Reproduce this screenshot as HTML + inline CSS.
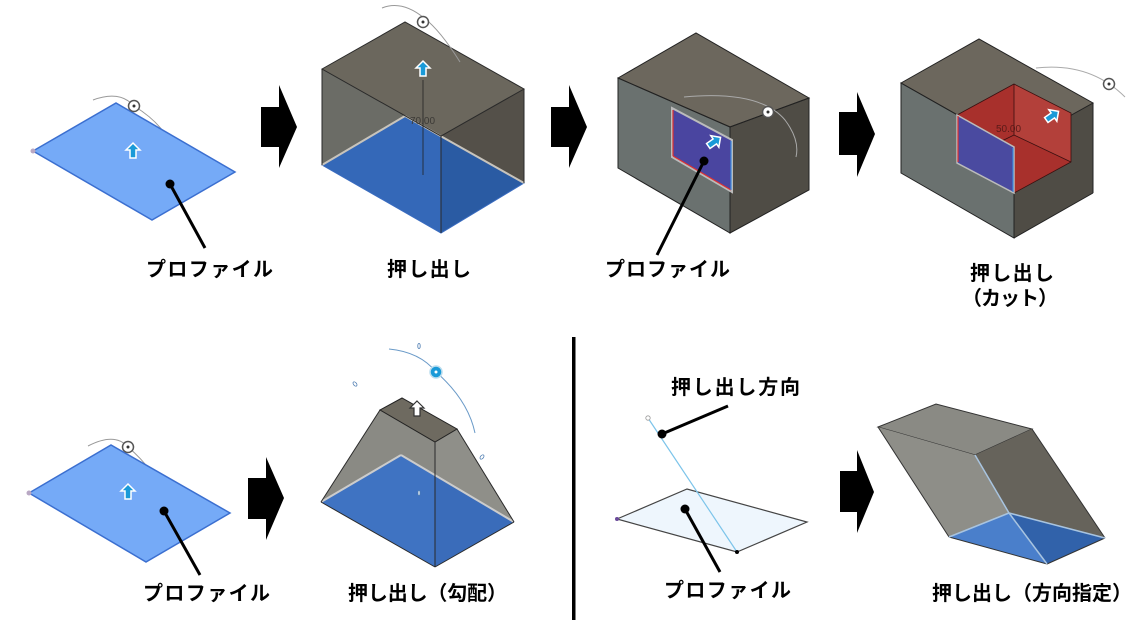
<!DOCTYPE html>
<html><head><meta charset="utf-8"><style>
html,body{margin:0;padding:0;background:#fff;}
svg{display:block;}
text{font-family:"Liberation Sans","Noto Sans CJK JP",sans-serif;font-weight:bold;font-size:20px;fill:#000;}
</style></head><body>
<svg width="1147" height="640" viewBox="0 0 1147 640" xmlns="http://www.w3.org/2000/svg">
<defs>
<g id="bArrow"><path d="M0,-8 L7,-1 L3,-1 L3,7 L-3,7 L-3,-1 L-7,-1 Z" fill="#1a9ad8" stroke="#fff" stroke-width="1.5"/></g>
<g id="gizmo"><circle r="5.5" fill="#fff" stroke="#555" stroke-width="1.5"/><circle r="1.5" fill="#333"/></g>
</defs>

<!-- Panel 1 -->
<path d="M93,100 Q120,90 134,106 Q165,125 173,150" fill="none" stroke="#999" stroke-width="1"/>
<polygon points="33,151 116,103 235,172 152,220" fill="#75aaf7" stroke="#3b6fd0" stroke-width="1.5"/>
<circle cx="33" cy="151" r="2.5" fill="#b9a8c4"/>
<use href="#gizmo" x="134" y="106"/>
<use href="#bArrow" x="133" y="151"/>
<line x1="170" y1="184" x2="205" y2="248" stroke="#000" stroke-width="3"/>
<circle cx="170" cy="184" r="4.5" fill="#000"/>
<text x="146" y="276" textLength="127">プロファイル</text>

<!-- Arrow 1 -->
<polygon points="261,107 279,107 279,85 297,127 279,168 279,147 261,147" fill="#000"/>

<!-- Panel 2 box -->
<polygon points="322,69 405,22 405,116 322,165" fill="#6d6e68"/>
<polygon points="405,22 524,89 524,183 405,116" fill="#5a5750"/>
<polygon points="322,69 405,22 524,89 441,136" fill="#6b675d"/>
<polygon points="441,136 524,89 524,183 441,233" fill="#545049"/>
<polygon points="322,69 441,136 441,233 322,165" fill="#6a6b66" opacity="0.9"/>
<polygon points="322,165 405,116 441,137 441,233" fill="#3468b8"/>
<polygon points="405,116 524,183 441,233 441,137" fill="#2a5ba3"/>
<polygon points="322,165 405,116 524,183 441,233" fill="none" stroke="#3a6cc0" stroke-width="1"/>
<line x1="322" y1="165" x2="405" y2="116" stroke="#c8c4bc" stroke-width="2"/>
<line x1="405" y1="116" x2="524" y2="183" stroke="#c8c4bc" stroke-width="2"/>
<g stroke="#2a2a2a" stroke-width="1" fill="none">
<polygon points="322,69 405,22 524,89 441,136"/>
<line x1="322" y1="69" x2="322" y2="165"/>
<line x1="524" y1="89" x2="524" y2="183"/>
<line x1="441" y1="136" x2="441" y2="233"/>
</g>
<line x1="423" y1="80" x2="423" y2="175" stroke="#222" stroke-width="0.8"/>
<path d="M382,8 Q402,0 424,18 Q440,30 460,62" fill="none" stroke="#999" stroke-width="1"/>
<use href="#gizmo" x="423" y="22"/>
<use href="#bArrow" x="423" y="69"/>
<text x="410" y="124" style="font-size:10px;font-weight:normal;fill:#3c3a36">70.00</text>
<text x="387" y="276" textLength="84">押し出し</text>

<!-- Arrow 2 -->
<polygon points="551,107 569,107 569,85 587,127 569,168 569,147 551,147" fill="#000"/>

<!-- Panel 3 -->
<polygon points="618,78 696,33 809,98 730,127" fill="#6c675d"/>
<polygon points="618,78 730,127 730,233 618,168" fill="#6a716f"/>
<polygon points="730,127 809,98 809,190 730,233" fill="#4f4c45"/>
<g stroke="#222" stroke-width="1" fill="none">
<polygon points="618,78 696,33 809,98 730,127"/>
<polygon points="618,78 730,127 730,233 618,168"/>
<polygon points="730,127 809,98 809,190 730,233"/>
</g>
<path d="M684,97 Q760,90 785,120 Q800,140 796,157" fill="none" stroke="#aaa" stroke-width="1"/>
<polygon points="672,108 732,140 732,192 672,157" fill="#4a45a0" stroke="#bbb" stroke-width="2"/>
<line x1="673" y1="110" x2="673" y2="156" stroke="#e03030" stroke-width="1.2"/>
<line x1="673" y1="156" x2="731" y2="190" stroke="#e03030" stroke-width="1.2"/>
<line x1="731" y1="141" x2="731" y2="190" stroke="#3a8ae0" stroke-width="1.2"/>
<use href="#gizmo" x="768" y="112"/>
<g transform="translate(714,142) rotate(55)"><use href="#bArrow"/></g>
<line x1="704" y1="161" x2="657" y2="255" stroke="#000" stroke-width="3"/>
<circle cx="704" cy="161" r="4.5" fill="#000"/>
<text x="605" y="276" textLength="125">プロファイル</text>

<!-- Arrow 3 -->
<polygon points="839,112 857,112 857,92 875,134 857,177 857,155 839,155" fill="#000"/>

<!-- Panel 4 -->
<polygon points="901,83 979,39 1093,103 1014,147" fill="#6c675d"/>
<polygon points="901,83 1014,147 1014,238 901,173" fill="#6a716f"/>
<polygon points="1014,147 1093,103 1093,193 1014,238" fill="#4f4c45"/>
<g stroke="#222" stroke-width="1" fill="none">
<polygon points="901,83 979,39 1093,103 1014,147"/>
<polygon points="901,83 1014,147 1014,238 901,173"/>
<line x1="1093" y1="103" x2="1093" y2="193"/><line x1="1093" y1="193" x2="1014" y2="238"/>
</g>
<polygon points="957,115 1014,84 1071,113 1071,162 1014,193 1014,147" fill="#a8302c"/>
<polygon points="1014,84 1071,113 1071,162 1014,135" fill="#b3403a"/>
<g stroke="#3a1010" stroke-width="0.8" fill="none">
<line x1="1014" y1="84" x2="1014" y2="135"/>
<line x1="1014" y1="135" x2="1071" y2="162"/>
<line x1="1014" y1="135" x2="957" y2="163"/>
<polygon points="957,115 1014,84 1071,113 1071,162 1014,193"/>
</g>
<polygon points="957,115 1014,147 1014,193 957,163" fill="#4a4aa0" stroke="#bbb" stroke-width="1.5"/>
<line x1="958" y1="116" x2="958" y2="162" stroke="#e03030" stroke-width="1.2"/>
<line x1="1013" y1="148" x2="1013" y2="192" stroke="#3a8ae0" stroke-width="1.2"/>
<path d="M1036,68 Q1090,62 1125,97" fill="none" stroke="#aaa" stroke-width="1"/>
<use href="#gizmo" x="1109" y="84"/>
<g transform="translate(1052,116) rotate(55)"><use href="#bArrow"/></g>
<text x="996" y="132" style="font-size:10px;font-weight:normal;fill:#5a1a18">50.00</text>
<text x="970" y="280" textLength="84">押し出し</text>
<text x="962" y="305" textLength="96">（カット）</text>

<!-- Panel 5 -->
<path d="M88,446 Q115,432 128,447 Q155,470 164,497" fill="none" stroke="#999" stroke-width="1"/>
<polygon points="29,493 111,445 230,513 146,562" fill="#75aaf7" stroke="#3b6fd0" stroke-width="1.5"/>
<circle cx="29" cy="493" r="2.5" fill="#b9a8c4"/>
<use href="#gizmo" x="128" y="447"/>
<use href="#bArrow" x="128" y="492"/>
<line x1="164" y1="511" x2="200" y2="575" stroke="#000" stroke-width="3"/>
<circle cx="164" cy="511" r="4.5" fill="#000"/>
<text x="143" y="600" textLength="127">プロファイル</text>

<!-- Arrow 4 -->
<polygon points="248,478 266,478 266,457 284,498 266,540 266,519 248,519" fill="#000"/>

<!-- Panel 6 frustum -->
<polygon points="321,502 380,410 435,442 435,567" fill="#8a8a84"/>
<polygon points="435,442 457,429 514,522 435,567" fill="#8f8f89"/>
<polygon points="380,410 402,398 457,429 435,442" fill="#6e6a60" stroke="#222" stroke-width="1"/>
<polygon points="321,502 401,455 435,475 435,567" fill="#3f73c2"/>
<polygon points="401,455 514,522 435,567 435,475" fill="#3a6cba"/>
<line x1="321" y1="502" x2="401" y2="455" stroke="#ccc" stroke-width="2"/>
<line x1="401" y1="455" x2="514" y2="522" stroke="#ccc" stroke-width="2"/>
<g stroke="#2a2a2a" stroke-width="1" fill="none">
<line x1="321" y1="502" x2="380" y2="410"/>
<line x1="457" y1="429" x2="514" y2="522"/>
<line x1="435" y1="442" x2="435" y2="567"/>
<line x1="321" y1="502" x2="435" y2="567"/><line x1="435" y1="567" x2="514" y2="522"/>
</g>
<path d="M389,349 Q420,352 436,372 Q468,400 475,433" fill="none" stroke="#6a9ac8" stroke-width="1"/>
<circle cx="436" cy="372" r="6" fill="#1a9ad8" stroke="#bde" stroke-width="1.5"/><circle cx="436" cy="372" r="1.5" fill="#fff"/>
<g transform="translate(417,409)"><path d="M0,-8 L7,-1 L3,-1 L3,7 L-3,7 L-3,-1 L-7,-1 Z" fill="#fff" stroke="#333" stroke-width="1.2"/></g>
<g fill="#fff" stroke="#4a7ab0" stroke-width="0.8">
<ellipse cx="419" cy="346" rx="1.2" ry="2.5"/><ellipse cx="355" cy="384" rx="1.5" ry="2.5" transform="rotate(-40 355 384)"/>
<ellipse cx="482" cy="457" rx="1.5" ry="2.5" transform="rotate(40 482 457)"/><ellipse cx="419" cy="493" rx="1" ry="2.5"/>
</g>
<text x="348" y="600" textLength="159">押し出し（勾配）</text>

<!-- Divider -->
<rect x="572" y="337" width="3.5" height="283" fill="#000"/>

<!-- Panel 7 -->
<text x="671" y="394" textLength="129">押し出し方向</text>
<polygon points="617,519 687,489 807,522 737,552" fill="#eef6fd" stroke="#444" stroke-width="1.2"/>
<line x1="648" y1="418" x2="737" y2="552" stroke="#7cc4ea" stroke-width="1.2"/>
<circle cx="648" cy="418" r="2.2" fill="#fff" stroke="#999" stroke-width="0.8"/>
<circle cx="617" cy="519" r="2" fill="#6a4a9a"/>
<circle cx="737" cy="552" r="2" fill="#000"/>
<line x1="662" y1="434" x2="728" y2="406" stroke="#000" stroke-width="3"/>
<circle cx="662" cy="434" r="4.5" fill="#000"/>
<line x1="685" y1="509" x2="720" y2="572" stroke="#000" stroke-width="3"/>
<circle cx="685" cy="509" r="4.5" fill="#000"/>
<text x="664" y="597" textLength="127">プロファイル</text>

<!-- Arrow 5 -->
<polygon points="840,471 857,471 857,450 874,492 857,533 857,512 840,512" fill="#000"/>

<!-- Panel 8 prism -->
<polygon points="878,427 936,404 1032,429 975,455" fill="#8a8a84" stroke="#333" stroke-width="1"/>
<polygon points="878,427 975,455 1009,513 949,537" fill="#8e8e88"/>
<polygon points="975,455 1032,429 1105,538 1009,513" fill="#66635b"/>
<polygon points="949,537 1009,513 1047,564" fill="#4a7fcb"/>
<polygon points="1009,513 1105,538 1047,564" fill="#3162aa"/>
<g stroke="#333" stroke-width="1" fill="none">
<line x1="878" y1="427" x2="949" y2="537"/>
<line x1="1032" y1="429" x2="1105" y2="538"/>
<line x1="949" y1="537" x2="1047" y2="564"/><line x1="1047" y1="564" x2="1105" y2="538"/>
</g>
<g stroke="#a8c4e0" stroke-width="1.5" fill="none">
<line x1="975" y1="455" x2="1009" y2="513"/>
<line x1="949" y1="537" x2="1009" y2="513"/><line x1="1009" y1="513" x2="1105" y2="538"/>
<line x1="1009" y1="513" x2="1047" y2="564"/>
</g>
<text x="932" y="600" textLength="200">押し出し（方向指定）</text>
</svg>
</body></html>
